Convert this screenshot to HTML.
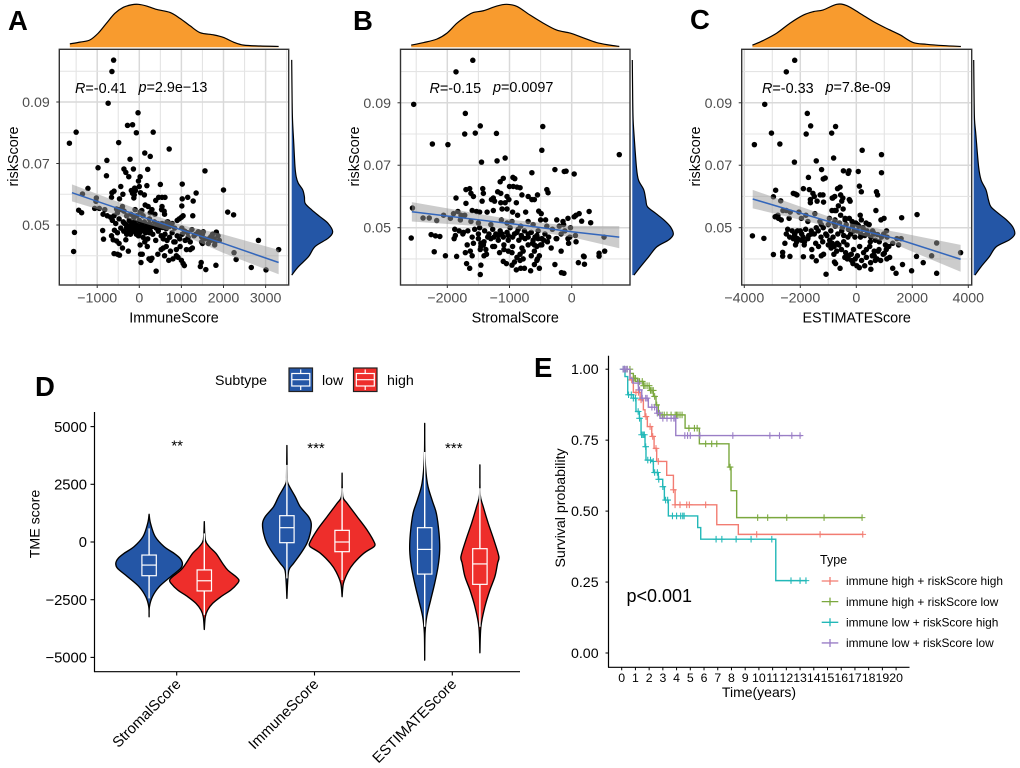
<!DOCTYPE html>
<html lang="en">
<head>
<meta charset="utf-8">
<title>Risk score and TME panels</title>
<style>
html,body{margin:0;padding:0;background:#fff;width:1020px;height:768px;overflow:hidden}
svg{display:block;font-family:"Liberation Sans",Arial,sans-serif;filter:blur(0.3px)}
.pl{font-size:27.5px;font-weight:bold;fill:#000}
.t{font-size:14.4px;fill:#000}
</style>
</head>
<body>
<svg id="figure" width="1020" height="768" viewBox="0 0 1020 768" xmlns="http://www.w3.org/2000/svg">
<rect width="1020" height="768" fill="#fff"/>
<text class="pl" x="8" y="30">A</text>
<text class="pl" x="353" y="30">B</text>
<text class="pl" x="690" y="29">C</text>
<text class="pl" x="35" y="396">D</text>
<text class="pl" x="534" y="377">E</text>

<g id="panelA"></g>
<g id="panelB"></g>
<g id="panelC"></g>
<g id="panelD">
  <text x="215" y="385" font-size="14.2" fill="#000">Subtype</text>
  <g>
    <rect x="289" y="368" width="23.5" height="23.5" fill="#2456A6" stroke="#222" stroke-width="1.2"/>
    <path d="M300.7 369.5V373.5M300.7 386V390" stroke="#fff" stroke-width="1.2"/>
    <rect x="291.8" y="373.5" width="18" height="12.5" fill="none" stroke="#fff" stroke-width="1.2"/>
    <path d="M291.8 379.7H309.8" stroke="#fff" stroke-width="1.2"/>
    <text x="322" y="385" font-size="14.2" fill="#000">low</text>
  </g>
  <g>
    <rect x="353.5" y="368" width="23.5" height="23.5" fill="#EE2E2B" stroke="#222" stroke-width="1.2"/>
    <path d="M365.2 369.5V373.5M365.2 386V390" stroke="#fff" stroke-width="1.2"/>
    <rect x="356.3" y="373.5" width="18" height="12.5" fill="none" stroke="#fff" stroke-width="1.2"/>
    <path d="M356.3 379.7H374.3" stroke="#fff" stroke-width="1.2"/>
    <text x="387" y="385" font-size="14.2" fill="#000">high</text>
  </g>
  <text transform="translate(39.5,524) rotate(-90)" text-anchor="middle" font-size="14.2" fill="#000">TME score</text>
</g>
<g id="panelE">
  <text transform="translate(565,508) rotate(-90)" text-anchor="middle" font-size="14.2" fill="#000">Survival probability</text>
  <text x="759" y="697" text-anchor="middle" font-size="14" fill="#000">Time(years)</text>
  <text x="626.5" y="602" font-size="18" fill="#000">p&lt;0.001</text>
  <text x="820" y="564" font-size="12.5" fill="#000">Type</text>
</g>

<script>
/* ---------- Panel A data ---------- */
var immuneScore = [
-610,-650,-740,-30,-1500,-280,-160,-70,330,-1660,
-490,710,130,260,-770,-220,-980,-780,-365,-320,
-140,200,-250,20,-20,1560,1020,2000,-1220,-1350,
-1020,-1030,-1440,-1370,-1060,-950,2100,2240,-1540,-1560,
2830,3310,2250,2300,2660,3010,1580,1820,400,
-440,-110,0,180,500,-650,-600,-390,-190,-160,
-120,-90,30,120,460,540,610,1350,1150,1280,
1020,1010,390,-660,-470,-130,-400,-480,-390,-360,
-540,-100,20,60,140,210,300,260,370,540,
530,590,600,-820,-860,-760,-680,-600,-520,-300,
-200,-130,-60,90,240,1270,1000,1040,950,680,
-640,-560,-480,-380,-300,-240,-180,-120,-60,0,
60,120,180,240,300,360,420,480,540,600,
660,720,780,840,900,1010,1080,1150,1250,1340,
1400,1450,1500,1520,1700,1740,1780,1830,1900,1870,
-870,-850,-660,-590,-520,-440,-370,-300,-240,-180,
-120,-60,-20,40,90,150,200,260,320,390,
450,520,570,610,660,720,780,850,900,960,
1020,1090,1160,1210,1300,1480,1560,1640,1690,1790,
-620,-540,-480,-400,-320,-260,20,70,130,190,
-600,-520,-470,30,40,230,270,300,440,520,
570,600,640,700,740,800,880,920,970,1000,
1040,1070,1120,1210,1260,1450,1470,1500,880,820,
-300,-250,-200,-160,-120,-80,-40,0,40,80,
120,160,200,240,-350,-280,-210,-140,-70,10,
400,440,500,560,640,1450,1480,1650,1720,1800
];
var riskA = [
0.1036,0.0999,0.0896,0.0865,0.0802,0.0824,0.0826,0.0800,0.0802,0.0766,
0.0768,0.0747,0.0734,0.0723,0.0710,0.0714,0.0686,0.0660,0.0682,0.0671,
0.0682,0.0681,0.0657,0.0657,0.0643,0.0676,0.0633,0.0614,0.0619,0.0601,
0.0588,0.0577,0.0548,0.0540,0.0554,0.0554,0.0542,0.0533,0.0476,0.0414,
0.0450,0.0420,0.0410,0.0388,0.0362,0.0354,0.0355,0.0369,0.0350,
0.0625,0.0620,0.0625,0.0628,0.0632,0.0605,0.0610,0.0600,0.0612,0.0603,
0.0598,0.0612,0.0605,0.0598,0.0590,0.0590,0.0590,0.0604,0.0590,0.0578,
0.0585,0.0562,0.0580,0.0590,0.0585,0.0588,0.0560,0.0550,0.0548,0.0545,
0.0552,0.0550,0.0542,0.0547,0.0565,0.0560,0.0550,0.0540,0.0535,0.0560,
0.0550,0.0545,0.0535,0.0550,0.0535,0.0530,0.0525,0.0530,0.0540,0.0530,
0.0535,0.0525,0.0530,0.0530,0.0520,0.0530,0.0525,0.0530,0.0520,0.0510,
0.0515,0.0505,0.0520,0.0510,0.0500,0.0515,0.0505,0.0510,0.0500,0.0515,
0.0505,0.0510,0.0500,0.0505,0.0495,0.0510,0.0500,0.0490,0.0505,0.0495,
0.0510,0.0495,0.0505,0.0490,0.0515,0.0490,0.0480,0.0475,0.0485,0.0470,
0.0478,0.0475,0.0470,0.0478,0.0462,0.0470,0.0455,0.0477,0.0450,0.0465,
0.0482,0.0454,0.0465,0.0483,0.0475,0.0490,0.0480,0.0470,0.0490,0.0478,
0.0485,0.0475,0.0465,0.0480,0.0460,0.0475,0.0455,0.0480,0.0470,0.0450,
0.0480,0.0465,0.0455,0.0470,0.0450,0.0460,0.0475,0.0445,0.0465,0.0455,
0.0470,0.0450,0.0460,0.0445,0.0465,0.0445,0.0455,0.0440,0.0450,0.0435,
0.0452,0.0448,0.0440,0.0425,0.0452,0.0415,0.0435,0.0405,0.0445,0.0430,
0.0407,0.0405,0.0402,0.0405,0.0378,0.0390,0.0385,0.0392,0.0405,0.0420,
0.0425,0.0400,0.0430,0.0385,0.0415,0.0390,0.0420,0.0395,0.0430,0.0385,
0.0375,0.0368,0.0420,0.0420,0.0425,0.0365,0.0378,0.0440,0.0400,0.0445,
0.0492,0.0485,0.0497,0.0488,0.0480,0.0493,0.0483,0.0490,0.0497,0.0486,
0.0492,0.0483,0.0490,0.0475,0.0505,0.0475,0.0470,0.0500,0.0470,0.0475,
0.0490,0.0505,0.0500,0.0492,0.0488,0.0470,0.0462,0.0455,0.0462,0.0445
];
var ticksA = [-1000,0,1000,2000,3000];
var fitXA = [-1600,0,1000,2000,3310];
var fitA = [0.0605,0.0530,0.0484,0.0440,0.0378];
var fitUpperA = [0.0632,0.0549,0.0500,0.0469,0.0419];
var fitLowerA = [0.0577,0.0510,0.0469,0.0409,0.0340];
var densTopXA = [-1650,-1410,-1175,-975,-780,-580,-380,-180,-25,175,415,730,970,1205,1445,1760,2000,2240,2480,2875,3310];
var densTopA = [0.08,0.12,0.17,0.33,0.56,0.79,0.93,0.99,1,0.96,0.88,0.81,0.67,0.50,0.34,0.29,0.23,0.12,0.05,0.03,0.02];
var densRightYA = [0.1037,0.0907,0.0841,0.0766,0.0690,0.0657,0.0636,0.0614,0.0592,0.0570,0.0549,0.0527,0.0505,0.0478,0.0457,0.0430,0.0397,0.0364,0.0337];
var densRightA = [0,0.01,0.02,0.05,0.08,0.11,0.16,0.27,0.31,0.33,0.49,0.69,0.89,1,0.89,0.57,0.41,0.16,0];

/* ---------- Panel B data ---------- */
var stromalScore = [
-1590,-1860,-2540,-1710,-1470,-465,-1550,-1720,-1210,-2240,
-1990,-480,765,-1070,-1200,-1450,-640,-270,-120,-90,
40,-1100,-1150,-945,-915,280,160,305,-2560,-2580,
-2390,-2290,-2170,-2260,-2190,-2120,-2210,-2030,-1850,520,
530,440,440,107,200,190,205,-165,-125,-270,
-1470,-1640,-660,-520,
-1700,-1640,-1620,-1580,-1430,-1420,-1260,-1190,-1140,-1000,
-940,-880,-830,-800,-700,-640,-600,-550,-400,-380,
-1860,-1700,-1440,-1290,-1240,-1140,-1070,-1010,-1040,-890,
-1900,-1830,-1780,-1600,-1530,-1480,-1360,-1260,-1120,-1040,
-950,-870,-740,-530,-490,-420,-240,-140,-60,40,
70,120,-2060,-1950,-1790,-1720,-1620,-1500,-1300,-1130,
-1040,-960,-820,-700,-620,-500,-400,-200,-130,-20,
-1880,-1870,-1810,-1740,-1670,-1560,-1480,-1400,-1330,-1270,
-1220,-1150,-1100,-1040,-990,-920,-860,-810,-760,-700,
-650,-590,-540,-480,-430,-370,-310,-250,-170,-110,
-60,-30,60,-1890,-1680,-1580,-1500,-1460,-1410,-1270,
-1180,-1090,-1020,-950,-850,-800,-750,-700,-630,-560,
-540,-480,-390,-170,-50,70,-1710,-1630,-1600,-1470,
-1410,-1370,-1160,-1090,-1020,-960,-880,-830,-780,-650,
-600,-550,-520,-1690,-1460,-1100,-1050,-960,-830,-820,
-780,-600,-560,-890,-920,-760,-1300,-1240,-330,-240,
-1750,-1600,-1500,-1350,-1250,-1180,-1120,-1020,-950,-880,
-800,-700,-620,-560,-500,-450,-1420,-1380,-1460,-600
];
var riskB = [
0.1036,0.0999,0.0895,0.0866,0.0826,0.0824,0.0803,0.0800,0.0802,0.0768,
0.0766,0.0748,0.0734,0.0723,0.0714,0.0710,0.0676,0.0686,0.0680,0.0681,
0.0672,0.0658,0.0647,0.0661,0.0657,0.0552,0.0521,0.0516,0.0563,0.0467,
0.0531,0.0531,0.0523,0.0478,0.0474,0.0472,0.0423,0.0410,0.0408,0.0470,
0.0425,0.0418,0.0409,0.0388,0.0407,0.0409,0.0383,0.0356,0.0354,0.0382,
0.0350,0.0370,0.0362,0.0370,
0.0622,0.0625,0.0610,0.0600,0.0625,0.0610,0.0595,0.0615,0.0610,0.0632,
0.0632,0.0630,0.0628,0.0605,0.0600,0.0590,0.0590,0.0605,0.0622,0.0612,
0.0595,0.0578,0.0585,0.0590,0.0585,0.0580,0.0580,0.0590,0.0600,0.0580,
0.0545,0.0552,0.0540,0.0555,0.0552,0.0550,0.0550,0.0555,0.0560,0.0560,
0.0550,0.0540,0.0550,0.0553,0.0545,0.0525,0.0525,0.0520,0.0530,0.0535,
0.0540,0.0545,0.0540,0.0530,0.0525,0.0540,0.0520,0.0515,0.0510,0.0525,
0.0515,0.0520,0.0505,0.0520,0.0510,0.0525,0.0505,0.0505,0.0510,0.0500,
0.0495,0.0475,0.0490,0.0485,0.0490,0.0495,0.0500,0.0490,0.0480,0.0495,
0.0480,0.0490,0.0470,0.0485,0.0500,0.0480,0.0495,0.0475,0.0490,0.0470,
0.0485,0.0470,0.0490,0.0465,0.0480,0.0470,0.0495,0.0465,0.0480,0.0490,
0.0465,0.0470,0.0475,0.0465,0.0445,0.0450,0.0465,0.0440,0.0455,0.0440,
0.0460,0.0445,0.0460,0.0440,0.0460,0.0435,0.0465,0.0445,0.0450,0.0440,
0.0465,0.0445,0.0455,0.0425,0.0450,0.0455,0.0420,0.0425,0.0410,0.0430,
0.0410,0.0415,0.0420,0.0430,0.0425,0.0420,0.0405,0.0415,0.0425,0.0410,
0.0425,0.0400,0.0410,0.0385,0.0380,0.0392,0.0385,0.0380,0.0395,0.0370,
0.0400,0.0382,0.0395,0.0365,0.0390,0.0370,0.0465,0.0440,0.0435,0.0465,
0.0480,0.0470,0.0480,0.0470,0.0470,0.0475,0.0480,0.0475,0.0470,0.0485,
0.0470,0.0480,0.0460,0.0475,0.0445,0.0460,0.0445,0.0430,0.0450,0.0445
];
var ticksB = [-2000,-1000,0];
var fitXB = [-2570,-900,0,765];
var fitB = [0.0551,0.0511,0.0487,0.0470];
var fitUpperB = [0.0582,0.0524,0.0506,0.0505];
var fitLowerB = [0.0520,0.0497,0.0470,0.0434];
var densTopXB = [-2580,-2380,-2170,-2005,-1845,-1685,-1580,-1420,-1205,-1045,-880,-670,-455,-240,-25,185,400,615,765];
var densTopB = [0.05,0.11,0.19,0.33,0.56,0.73,0.81,0.85,0.96,1,0.95,0.75,0.56,0.40,0.33,0.22,0.11,0.05,0.02];
var densRightYB = [0.1037,0.0909,0.0845,0.0802,0.0695,0.0653,0.0621,0.0589,0.0567,0.0546,0.0525,0.0503,0.0479,0.0461,0.0439,0.0407,0.0375,0.0348];
var densRightB = [0,0.01,0.02,0.04,0.10,0.15,0.28,0.33,0.37,0.57,0.77,0.93,1,0.89,0.60,0.40,0.20,0.04];

/* ---------- Panel C data ---------- */
var estimateScore = [
-2200,-2500,-3270,-1750,-1630,-740,-3030,-1790,-880,-3640,
-2730,210,900,-810,-1430,-2210,-1240,-1710,-460,-260,
-290,70,900,-1180,-1110,110,180,-2880,-2960,-2700,
-3710,-3300,3725,2870,2690,2150,2390,1975,2870,1650,
1420,1300,2170,1620,-1080,-2960,-2630,-2630,-2370,-1890,
-1580,-1430,-580,520,
-1890,-1680,-1550,-1500,-1290,-1190,-770,-670,-580,-480,
-560,-250,-220,-520,-1640,-1640,-1400,-1170,-860,-2180,
-2250,-2120,-640,-720,720,760,-840,-2500,-2360,-770,
-2620,-2780,-2800,-2900,-2050,-1960,-1800,-1730,-1480,-1250,
-960,-870,-760,-560,-470,-400,-250,-120,-20,140,
180,350,460,580,700,880,990,1080,-2400,-2680,
-2500,-2450,-2380,-2290,-2200,-2100,-2000,-1900,-1810,-1700,
-1610,-1500,-1430,-1360,-1260,-1180,-1090,-1000,-910,-830,
-750,-660,-600,-520,-450,-360,-280,-200,-130,-50,
30,90,160,240,300,380,440,520,600,680,
760,820,900,980,1040,1100,1160,1300,1450,1510,
1600,-2550,-2250,-2170,-2130,-1960,-1860,-1730,-1590,-1450,
-1350,-1200,-1000,-950,-900,-860,-790,-700,-620,-530,
-450,-380,-330,-180,-100,40,120,260,360,480,
570,640,740,810,870,960,1070,1190,-1250,-1170,
-800,-780,-740,-410,-320,-270,-170,-120,-40,20,
110,190,300,360,510,640,680,780,1000,1090,
-2200,-2100,-1950,-1850,-1600,-1300,-1050,-800,-680,-500,
-400,-300,-150,-80,50,150,250,400,500,650
];
var riskC = [
0.1036,0.0999,0.0895,0.0866,0.0826,0.0824,0.0803,0.0800,0.0803,0.0766,
0.0768,0.0748,0.0734,0.0723,0.0714,0.0710,0.0686,0.0661,0.0682,0.0682,
0.0674,0.0680,0.0676,0.0656,0.0659,0.0633,0.0615,0.0620,0.0599,0.0586,
0.0474,0.0466,0.0420,0.0451,0.0410,0.0408,0.0388,0.0362,0.0354,0.0382,
0.0354,0.0370,0.0542,0.0532,0.0351,0.0414,0.0421,0.0409,0.0408,0.0407,
0.0407,0.0394,0.0370,0.0367,
0.0625,0.0622,0.0610,0.0600,0.0605,0.0605,0.0600,0.0625,0.0630,0.0595,
0.0605,0.0590,0.0585,0.0585,0.0590,0.0580,0.0585,0.0582,0.0595,0.0608,
0.0610,0.0605,0.0570,0.0555,0.0615,0.0605,0.0595,0.0555,0.0550,0.0555,
0.0555,0.0530,0.0540,0.0535,0.0550,0.0530,0.0540,0.0520,0.0545,0.0510,
0.0530,0.0555,0.0525,0.0540,0.0560,0.0525,0.0530,0.0510,0.0515,0.0540,
0.0525,0.0515,0.0510,0.0490,0.0555,0.0525,0.0530,0.0490,0.0530,0.0525,
0.0480,0.0495,0.0470,0.0490,0.0475,0.0465,0.0490,0.0470,0.0495,0.0475,
0.0490,0.0480,0.0500,0.0490,0.0470,0.0500,0.0480,0.0510,0.0490,0.0470,
0.0505,0.0480,0.0515,0.0490,0.0475,0.0510,0.0495,0.0480,0.0505,0.0470,
0.0490,0.0505,0.0480,0.0500,0.0475,0.0490,0.0510,0.0470,0.0485,0.0460,
0.0478,0.0455,0.0470,0.0480,0.0445,0.0470,0.0440,0.0450,0.0465,0.0445,
0.0465,0.0450,0.0465,0.0445,0.0455,0.0460,0.0445,0.0465,0.0430,0.0450,
0.0440,0.0455,0.0445,0.0460,0.0435,0.0450,0.0440,0.0425,0.0445,0.0430,
0.0455,0.0420,0.0445,0.0415,0.0430,0.0410,0.0440,0.0420,0.0430,0.0440,
0.0410,0.0425,0.0400,0.0430,0.0395,0.0415,0.0430,0.0405,0.0410,0.0415,
0.0415,0.0390,0.0385,0.0405,0.0400,0.0410,0.0395,0.0385,0.0400,0.0378,
0.0372,0.0395,0.0378,0.0405,0.0388,0.0410,0.0395,0.0425,0.0418,0.0400,
0.0480,0.0490,0.0480,0.0455,0.0480,0.0520,0.0475,0.0515,0.0450,0.0500,
0.0530,0.0470,0.0520,0.0490,0.0510,0.0470,0.0495,0.0480,0.0455,0.0480
];
var ticksC = [-4000,-2000,0,2000,4000];
var fitXC = [-3700,-350,1500,3725];
var fitC = [0.0592,0.0503,0.0463,0.0399];
var fitUpperC = [0.0621,0.0516,0.0485,0.0445];
var fitLowerC = [0.0562,0.0490,0.0442,0.0359];
var densTopXC = [-3710,-3320,-2840,-2370,-1890,-1535,-1180,-700,-345,130,605,1080,1560,2035,2510,3105,3735];
var densTopC = [0.05,0.16,0.33,0.56,0.75,0.83,0.87,1,0.97,0.79,0.60,0.44,0.29,0.11,0.07,0.04,0.02];
var densRightYC = [0.1037,0.0909,0.0845,0.0802,0.0695,0.0653,0.0621,0.0589,0.0567,0.0546,0.0525,0.0503,0.0479,0.0461,0.0439,0.0407,0.0375,0.0348];
var densRightC = [0,0.01,0.02,0.05,0.12,0.18,0.30,0.36,0.42,0.60,0.80,0.95,1,0.87,0.55,0.38,0.18,0.03];
var riskTicks = [0.05,0.07,0.09];
var riskMinor = [0.04,0.06,0.08,0.10];

/* ---------- Panel D data ---------- */
var tmeCategories = ["StromalScore","ImmuneScore","ESTIMATEScore"];
var tmeSignificance = ["**","***","***"];
var tmeTicks = [5000,2500,0,-2500,-5000];
var stromalLowV = [1200,820,240,-200,-490,-710,-925,-1140,-1500,-1940,-2370,-2800,-3240];
var stromalLowW = [0,0.04,0.18,0.45,0.75,0.93,1.0,0.95,0.65,0.30,0.10,0.01,0];
var stromalHighV = [880,90,-200,-490,-925,-1210,-1500,-1650,-1790,-2080,-2370,-2660,-2950,-3240,-3790];
var stromalHighW = [0,0.03,0.15,0.35,0.55,0.70,0.95,1.04,1.0,0.80,0.5,0.25,0.10,0.03,0];
var immuneLowV = [4180,2830,2540,1965,1530,1100,810,375,-60,-490,-925,-1210,-1790,-2440];
var immuneLowW = [0,0.01,0.03,0.25,0.40,0.65,0.73,0.70,0.60,0.42,0.20,0.06,0.02,0];
var immuneHighV = [2980,1965,1680,1100,520,-60,-200,-490,-925,-1290,-1790,-2370];
var immuneHighW = [0,0.02,0.15,0.45,0.75,0.98,0.96,0.65,0.35,0.18,0.04,0];
var estimateLowV = [5140,3630,2540,1820,1240,375,-350,-1070,-1790,-2510,-3240,-3960,-5120];
var estimateLowW = [0,0.01,0.08,0.22,0.35,0.43,0.45,0.40,0.30,0.18,0.06,0.01,0];
var estimateHighV = [3340,2040,1530,810,90,-640,-925,-1500,-2080,-2800,-3670,-4800];
var estimateHighW = [0,0.01,0.10,0.25,0.42,0.57,0.53,0.45,0.30,0.15,0.03,0];
/* box stats: whisker high, q3, median, q1, whisker low */
var stromalLowBox = [590,-565,-1000,-1460,-2440];
var stromalHighBox = [375,-1210,-1680,-2120,-3160];
var immuneLowBox = [3340,1140,620,-30,-1575];
var immuneHighBox = [2330,505,0,-420,-1650];
var estimateLowBox = [3900,620,-320,-1390,-3670];
var estimateHighBox = [2330,-290,-950,-1835,-3670];

/* ---------- Panel E data ---------- */
var survivalTicks = [1.00,0.75,0.50,0.25,0.00];
var yearTicks = [0,1,2,3,4,5,6,7,8,9,10,11,12,13,14,15,16,17,18,19,20];
var redTime = [0,0.6,0.85,1.34,1.58,1.7,1.87,2.19,2.36,2.55,3.28,3.77,3.89,6.93,8.5,17.6];
var redSurv = [1,0.962,0.918,0.892,0.857,0.833,0.798,0.763,0.721,0.675,0.626,0.575,0.522,0.452,0.418,0.418];
var redCensor = [0.2,0.73,1.04,1.22,1.41,1.77,2.07,2.26,2.5,2.67,3.77,3.89,4.25,4.74,4.93,6.12,9.84,14.46,17.57];
var greenTime = [0,0.61,0.85,1.14,1.58,2.02,2.31,2.5,2.67,4.62,5.66,7.82,7.97,8.38,17.5];
var greenSurv = [1,0.985,0.968,0.957,0.942,0.925,0.904,0.874,0.839,0.792,0.737,0.655,0.572,0.477,0.477];
var greenCensor = [0.2,0.4,0.6,0.9,1.0,1.2,1.3,1.5,1.6,1.7,1.85,2.0,2.1,2.2,2.3,2.4,2.55,2.8,2.95,3.1,3.3,3.6,3.9,4.0,4.1,4.25,4.4,4.9,5.3,5.5,6.12,6.56,6.93,7.9,9.91,10.64,12.03,14.75,17.52];
var tealTime = [0,0.24,0.44,0.85,1.04,1.29,1.41,1.7,1.77,2.19,2.31,2.67,2.99,3.11,3.4,5.54,5.76,11.23,13.49];
var tealSurv = [1,0.974,0.91,0.898,0.851,0.827,0.769,0.727,0.68,0.675,0.636,0.612,0.586,0.539,0.483,0.442,0.401,0.255,0.255];
var tealCensor = [0.1,0.2,0.5,0.7,0.85,1.0,1.2,1.3,1.45,1.5,1.6,1.65,1.75,1.9,2.1,2.3,2.4,2.6,2.7,3.0,3.2,3.35,3.7,4.0,4.3,4.45,4.55,6.88,7.3,8.34,9.43,10.94,12.34,13.0,13.43];
var purpleTime = [0,0.61,0.8,1.22,1.46,1.94,2.55,2.79,3.94,13.12];
var purpleSurv = [1,0.968,0.951,0.927,0.898,0.866,0.845,0.827,0.766,0.766];
var purpleCensor = [0.1,0.2,0.3,0.4,1.2,1.3,1.5,1.75,1.85,2.2,2.4,2.6,2.75,3.0,3.3,3.6,3.8,3.9,4.6,4.8,5.0,5.7,8.1,10.8,11.5,12.4,13.0];
var survivalGroups = ["immune high + riskScore high","immune high + riskScore low","immune low + riskScore high","immune low + riskScore low"];

var NS = "http://www.w3.org/2000/svg";
function mk(tag, attrs, parent, txt){
  var el = document.createElementNS(NS, tag);
  for (var k in attrs) el.setAttribute(k, attrs[k]);
  if (txt !== undefined) el.textContent = txt;
  parent.appendChild(el);
  return el;
}
function lin(v0, p0, k){ return function(v){ return p0 + (v - v0) * k; }; }
function f(n){ return n.toFixed(2); }
function smooth(pts){
  var d = "M" + f(pts[0][0]) + " " + f(pts[0][1]);
  function tan(i){
    var a = pts[Math.max(i-1,0)], b = pts[Math.min(i+1,pts.length-1)];
    return [(b[0]-a[0])/6,(b[1]-a[1])/6];
  }
  for (var i = 0; i < pts.length-1; i++){
    var p = pts[i], q = pts[i+1];
    var seg = Math.hypot(q[0]-p[0], q[1]-p[1]);
    var t1 = tan(i), t2 = tan(i+1);
    var l1 = Math.hypot(t1[0],t1[1]) || 1, l2 = Math.hypot(t2[0],t2[1]) || 1;
    var m1 = Math.min(1, 0.45*seg/l1), m2 = Math.min(1, 0.45*seg/l2);
    d += "C" + f(p[0]+t1[0]*m1) + " " + f(p[1]+t1[1]*m1) + " " + f(q[0]-t2[0]*m2) + " " + f(q[1]-t2[1]*m2) + " " + f(q[0]) + " " + f(q[1]);
  }
  return d;
}
function ribbonBand(sx, sy, xs, up, lo){
  var d = "";
  for (var i = 0; i < xs.length; i++) d += (i ? "L" : "M") + f(sx(xs[i])) + " " + f(sy(up[i]));
  for (var j = xs.length-1; j >= 0; j--) d += "L" + f(sx(xs[j])) + " " + f(sy(lo[j]));
  return d + "Z";
}

function drawScatter(c){
  var g = document.getElementById(c.id);
  var sx = lin(0, c.x0, c.kx), sy = lin(0.05, c.y0, -c.ky);
  var step = c.ticks[1] - c.ticks[0];
  var panelBg = mk("rect", {x:c.L, y:c.T, width:c.R-c.L, height:c.B-c.T, fill:"#fff"}, g);
  
  
  var k;
  for (k = 0; k < c.ticks.length + 2; k++){
    var mv = c.ticks[0] - step/2 + k*step - step;
    for (var q = 0; q < 2; q++){
      var gv = mv + q*step/2;
      var px = sx(gv);
      if (px <= c.L + 1 || px >= c.R - 1) continue;
      var isMajor = q === 1;
      var vl = mk("line", {x1:px, x2:px, y1:c.T, y2:c.B, stroke:isMajor?"#D9D9D9":"#E4E4E4", "stroke-width":isMajor?1.5:1.1}, g);
      
      
    }
  }
  var allY = riskTicks.concat(riskMinor);
  for (k = 0; k < allY.length; k++){
    var major = k < riskTicks.length;
    var hl = mk("line", {x1:c.L, x2:c.R, y1:sy(allY[k]), y2:sy(allY[k]), stroke:major?"#D9D9D9":"#E4E4E4", "stroke-width":major?1.5:1.1}, g);
    
    
  }
  for (k = 0; k < c.xs.length; k++){
    var pt = mk("circle", {cx:f(sx(c.xs[k])), cy:f(sy(c.ys[k])), r:2.75, fill:"#000"}, g);
    
    
  }
  var band = mk("path", {d:ribbonBand(sx, sy, c.fitX, c.fitU, c.fitL), fill:"#999", "fill-opacity":0.5}, g);
  
  
  var linePts = c.fitX.map(function(v,i){ return f(sx(v)) + "," + f(sy(c.fit[i])); }).join(" ");
  var fitLine = mk("polyline", {points:linePts, fill:"none", stroke:"#3366BB", "stroke-width":1.5}, g);
  
  
  var border = mk("rect", {x:c.L, y:c.T, width:c.R-c.L, height:c.B-c.T, fill:"none", stroke:"#333", "stroke-width":1.4}, g);
  
  
  for (k = 0; k < c.ticks.length; k++){
    var tx = sx(c.ticks[k]);
    var xt = mk("line", {x1:tx, x2:tx, y1:c.B, y2:c.B+3, stroke:"#333", "stroke-width":1}, g);
    
    
    var lab = String(c.ticks[k]).replace("-", "\u2212");
    var xl = mk("text", {x:tx, y:302.7, "text-anchor":"middle", "font-size":14.2, fill:"#4D4D4D"}, g, lab);
    
    
  }
  for (k = 0; k < riskTicks.length; k++){
    var ty = sy(riskTicks[k]);
    var yt = mk("line", {x1:c.L-3, x2:c.L, y1:ty, y2:ty, stroke:"#333", "stroke-width":1}, g);
    
    
    var yl = mk("text", {x:c.L-9.5, y:ty+5, "text-anchor":"end", "font-size":14.2, fill:"#4D4D4D"}, g, riskTicks[k].toFixed(2));
    
    
  }
  var xTitle = mk("text", {x:(c.L+c.R)/2, y:322.7, "text-anchor":"middle", "font-size":14.4, fill:"#000"}, g, c.title);
  
  
  var yTitle = mk("text", {transform:"translate("+(c.L-41.5)+",156.5) rotate(-90)", "text-anchor":"middle", "font-size":14.4, fill:"#000"}, g, "riskScore");
  
  

  var rText = mk("text", {x:c.rx, y:93, "font-size":14.4, fill:"#000"}, g);
  
  
  mk("tspan", {"font-style":"italic"}, rText, "R");
  mk("tspan", {}, rText, "=" + c.r);
  var pText = mk("text", {x:c.px, y:92, "font-size":14.4, fill:"#000"}, g);
  
  
  mk("tspan", {"font-style":"italic"}, pText, "p");
  mk("tspan", {}, pText, "=" + c.p);

  /* top marginal density */
  var base = 47.3, h = 43;
  var topPts = c.topX.map(function(v,i){ return [sx(v), base - c.top[i]*h]; });
  var topCurve = smooth(topPts);
  var topFill = mk("path", {d:topCurve + "L" + f(topPts[topPts.length-1][0]) + " " + base + "L" + f(topPts[0][0]) + " " + base + "Z", fill:"#F89B2E"}, g);
  
  
  var topLine = mk("path", {d:topCurve, fill:"none", stroke:"#000", "stroke-width":1.2}, g);
  
  

  /* right marginal density */
  var rb = c.rightBase, w = 41;
  var rPts = c.rightY.map(function(v,i){ return [rb + c.right[i]*w, sy(v)]; });
  var rCurve = smooth(rPts);
  var rFill = mk("path", {d:rCurve + "L" + rb + " " + f(rPts[rPts.length-1][1]) + "L" + rb + " " + f(rPts[0][1]) + "Z", fill:"#2456A6"}, g);
  
  
  var rLine = mk("path", {d:rCurve, fill:"none", stroke:"#000", "stroke-width":1.2}, g);
  
  
}

drawScatter({id:"panelA", L:59.3, R:288.7, T:49.3, B:285, x0:139.3, kx:0.0421, y0:225, ky:3075,
  xs:immuneScore, ys:riskA, ticks:ticksA, fitX:fitXA, fit:fitA, fitU:fitUpperA, fitL:fitLowerA,
  topX:densTopXA, top:densTopA, rightY:densRightYA, right:densRightA, rightBase:291.7,
  title:"ImmuneScore", r:"-0.41", p:"2.9e\u221213", rx:75, px:138.5});
drawScatter({id:"panelB", L:400.5, R:630, T:49.3, B:285, x0:571.7, kx:0.0622, y0:227.7, ky:3123,
  xs:stromalScore, ys:riskB, ticks:ticksB, fitX:fitXB, fit:fitB, fitU:fitUpperB, fitL:fitLowerB,
  topX:densTopXB, top:densTopB, rightY:densRightYB, right:densRightB, rightBase:632.3,
  title:"StromalScore", r:"-0.15", p:"0.0097", rx:429.5, px:493});
drawScatter({id:"panelC", L:741.7, R:971.7, T:49.3, B:285, x0:856.3, kx:0.028, y0:227.7, ky:3123,
  xs:estimateScore, ys:riskC, ticks:ticksC, fitX:fitXC, fit:fitC, fitU:fitUpperC, fitL:fitLowerC,
  topX:densTopXC, top:densTopC, rightY:densRightYC, right:densRightC, rightBase:973.7,
  title:"ESTIMATEScore", r:"-0.33", p:"7.8e-09", rx:762, px:825.5});

/* ---------- Panel D ---------- */
(function(){
  var g = document.getElementById("panelD");
  var sy = lin(0, 542, -0.02308);
  var catX = function(i){ return 176.7 + i*137.8; };
  var dodge = 27.6, widthScale = 33.3, boxHalf = 7.2;
  var BLUE = "#2456A6", RED = "#EE2E2B";
  var series = [
    {cat:0, side:-1, fill:BLUE, v:stromalLowV, w:stromalLowW, box:stromalLowBox},
    {cat:0, side:1, fill:RED, v:stromalHighV, w:stromalHighW, box:stromalHighBox},
    {cat:1, side:-1, fill:BLUE, v:immuneLowV, w:immuneLowW, box:immuneLowBox},
    {cat:1, side:1, fill:RED, v:immuneHighV, w:immuneHighW, box:immuneHighBox},
    {cat:2, side:-1, fill:BLUE, v:estimateLowV, w:estimateLowW, box:estimateLowBox},
    {cat:2, side:1, fill:RED, v:estimateHighV, w:estimateHighW, box:estimateHighBox}
  ];
  series.forEach(function(s){
    var cx = catX(s.cat) + s.side*dodge;
    var right = s.v.map(function(v,i){ return [cx + s.w[i]*widthScale, sy(v)]; });
    var left = s.v.map(function(v,i){ return [cx - s.w[i]*widthScale, sy(v)]; }).reverse();
    var d = smooth(right) + smooth(left).replace(/^M/, "L") + "Z";
    var vio = mk("path", {d:d, fill:s.fill, stroke:"#000", "stroke-width":1.35, "stroke-linejoin":"round"}, g);
    
    
    var b = s.box;
    var whisk = mk("path", {d:"M"+f(cx)+" "+f(sy(b[0]))+"V"+f(sy(b[1]))+"M"+f(cx)+" "+f(sy(b[3]))+"V"+f(sy(b[4])), stroke:"#fff", "stroke-width":1.4, fill:"none"}, g);
    
    
    var bx = mk("rect", {x:f(cx-boxHalf), y:f(sy(b[1])), width:boxHalf*2, height:f(sy(b[3])-sy(b[1])), fill:s.fill, stroke:"#fff", "stroke-width":1.2}, g);
    
    
    var med = mk("line", {x1:f(cx-boxHalf), x2:f(cx+boxHalf), y1:f(sy(b[2])), y2:f(sy(b[2])), stroke:"#fff", "stroke-width":1.2}, g);
    
    
  });
  var yAxis = mk("line", {x1:94.5, x2:94.5, y1:412, y2:672, stroke:"#000", "stroke-width":1.2}, g);
  
  
  var xAxis = mk("line", {x1:94, x2:520, y1:671.7, y2:671.7, stroke:"#000", "stroke-width":1.2}, g);
  
  
  tmeTicks.forEach(function(t){
    var y = sy(t);
    var tk = mk("line", {x1:90.5, x2:94.5, y1:y, y2:y, stroke:"#000", "stroke-width":1.1}, g);
    
    
    var lb = mk("text", {x:87, y:y+5.2, "text-anchor":"end", "font-size":14.8, fill:"#000"}, g, String(t).replace("-", "\u2212"));
    
    
  });
  tmeCategories.forEach(function(name,i){
    var x = catX(i);
    var tk = mk("line", {x1:x, x2:x, y1:671.7, y2:675.5, stroke:"#000", "stroke-width":1.1}, g);
    
    
    var lb = mk("text", {transform:"translate("+(x+5)+",685) rotate(-45)", "text-anchor":"end", "font-size":14.8, fill:"#000"}, g, name);
    
    
    var st = mk("text", {x:x+(i?1.5:0.5), y:i?453:450.5, "text-anchor":"middle", "font-size":15, fill:"#000"}, g, tmeSignificance[i]);
    
    
  });
})();

/* ---------- Panel E ---------- */
(function(){
  var g = document.getElementById("panelE");
  var sx = lin(0, 621.7, 13.72), sy = lin(0, 653, -283.8);
  var groups = [
    {color:"#F27C72", t:redTime, s:redSurv, c:redCensor},
    {color:"#7BA83F", t:greenTime, s:greenSurv, c:greenCensor},
    {color:"#22B8B8", t:tealTime, s:tealSurv, c:tealCensor},
    {color:"#9A7EC6", t:purpleTime, s:purpleSurv, c:purpleCensor}
  ];
  groups.forEach(function(gr){
    var d = "M" + f(sx(gr.t[0])) + " " + f(sy(gr.s[0]));
    for (var i = 1; i < gr.t.length; i++) d += "H" + f(sx(gr.t[i])) + "V" + f(sy(gr.s[i]));
    var path = mk("path", {d:d, fill:"none", stroke:gr.color, "stroke-width":1.4}, g);
    
    
    var m = "";
    gr.c.forEach(function(ct){
      var idx = 0;
      for (var j = 0; j < gr.t.length; j++) if (gr.t[j] <= ct) idx = j;
      var x = sx(ct), y = sy(gr.s[idx]);
      m += "M" + f(x-3.3) + " " + f(y) + "H" + f(x+3.3) + "M" + f(x) + " " + f(y-3.3) + "V" + f(y+3.3);
    });
    var marks = mk("path", {d:m, fill:"none", stroke:gr.color, "stroke-width":1.1}, g);
    
    
  });
  var yAxis = mk("line", {x1:608.5, x2:608.5, y1:355.7, y2:667.5, stroke:"#000", "stroke-width":1.2}, g);
  
  
  var xAxis = mk("line", {x1:608, x2:909.5, y1:667.3, y2:667.3, stroke:"#000", "stroke-width":1.2}, g);
  
  
  survivalTicks.forEach(function(t){
    var y = sy(t);
    var tk = mk("line", {x1:605.5, x2:608.5, y1:y, y2:y, stroke:"#000", "stroke-width":1}, g);
    
    
    var lb = mk("text", {x:598.6, y:y+5, "text-anchor":"end", "font-size":14.2, fill:"#000"}, g, t.toFixed(2));
    
    
  });
  yearTicks.forEach(function(t){
    var x = sx(t);
    var tk = mk("line", {x1:x, x2:x, y1:667.3, y2:670.3, stroke:"#000", "stroke-width":1}, g);
    
    
    var lb = mk("text", {x:x, y:682, "text-anchor":"middle", "font-size":12.3, fill:"#000"}, g, String(t));
    
    
  });
  survivalGroups.forEach(function(name,i){
    var y = 581 + i*20.65;
    var le = mk("g", {}, g);
    
    
    mk("path", {d:"M821.7 "+y+"H838.3M830 "+(y-4)+"V"+(y+4), fill:"none", stroke:groups[i].color, "stroke-width":1.3}, le);
    mk("text", {x:846, y:y+4.2, "font-size":11.9, fill:"#000"}, le, name);
  });
})();
</script>
</svg>
</body>
</html>
